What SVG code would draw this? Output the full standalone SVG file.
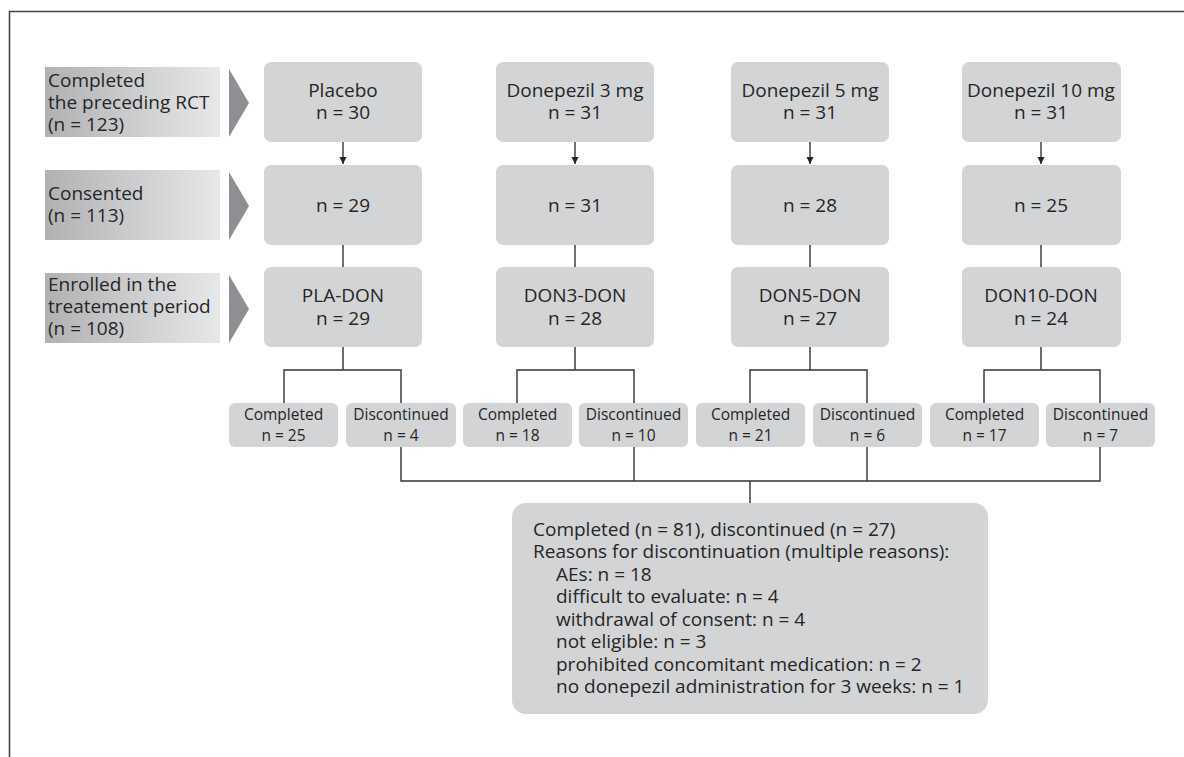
<svg xmlns="http://www.w3.org/2000/svg" width="1184" height="757" viewBox="0 0 1184 757">
<defs>
<linearGradient id="lg" x1="0" y1="0" x2="1" y2="0">
<stop offset="0" stop-color="#b0b1b3"/>
<stop offset="1" stop-color="#e7e8e9"/>
</linearGradient>
<marker id="ah" markerWidth="8" markerHeight="8" refX="7" refY="4" orient="auto" markerUnits="userSpaceOnUse" viewBox="0 0 8 8">
<path d="M0,0.5 L7,4 L0,7.5 Z" fill="#222"/>
</marker>
<style>
text{font-family:"Open Sans","Noto Sans","DejaVu Sans",sans-serif;fill:#262626}
.big{font-size:19px}
.sm{font-size:15.5px}
.c{text-anchor:middle}
.box{fill:#d3d4d6}
.lab{fill:url(#lg)}
.tri{fill:#8e8f92}
.ln{stroke:#333;stroke-width:1.4;fill:none}
</style>
</defs>
<path d="M9.5,757 L9.5,11.5 L1184,11.5" fill="none" stroke="#444" stroke-width="1.6"/>

<g id="label1">
<rect class="lab" x="45" y="67" width="175" height="70"/>
<polygon class="tri" points="229,69 249,103 229,137"/>
<text class="big"><tspan x="48" y="87">Completed</tspan><tspan x="48" y="109">the preceding RCT</tspan><tspan x="48" y="131">(n = 123)</tspan></text>
</g>
<g id="label2">
<rect class="lab" x="45" y="170" width="175" height="70"/>
<polygon class="tri" points="229,172 249,206 229,240"/>
<text class="big"><tspan x="48" y="200">Consented</tspan><tspan x="48" y="222">(n = 113)</tspan></text>
</g>
<g id="label3">
<rect class="lab" x="45" y="273" width="175" height="70"/>
<polygon class="tri" points="229,275 249,309 229,343"/>
<text class="big"><tspan x="48" y="291">Enrolled in the</tspan><tspan x="48" y="313">treatement period</tspan><tspan x="48" y="335">(n = 108)</tspan></text>
</g>

<g id="connectors">
<line class="ln" x1="343" y1="142" x2="343" y2="164" marker-end="url(#ah)"/>
<line class="ln" x1="575" y1="142" x2="575" y2="164" marker-end="url(#ah)"/>
<line class="ln" x1="810" y1="142" x2="810" y2="164" marker-end="url(#ah)"/>
<line class="ln" x1="1041" y1="142" x2="1041" y2="164" marker-end="url(#ah)"/>
<line class="ln" x1="343" y1="245" x2="343" y2="267"/>
<line class="ln" x1="575" y1="245" x2="575" y2="267"/>
<line class="ln" x1="810" y1="245" x2="810" y2="267"/>
<line class="ln" x1="1041" y1="245" x2="1041" y2="267"/>
<path class="ln" d="M343,347 V370 M284,403 V370 H401 V403"/>
<path class="ln" d="M575,347 V370 M517,403 V370 H634 V403"/>
<path class="ln" d="M810,347 V370 M750,403 V370 H867 V403"/>
<path class="ln" d="M1041,347 V370 M984,403 V370 H1100 V403"/>
<path class="ln" d="M401,447 V481 H1100 V447 M634,447 V481 M867,447 V481 M750,481 V503"/>
</g>

<g id="placebo"><rect class="box" x="264" y="62" width="158" height="80" rx="7"/><text class="big c"><tspan x="343" y="97">Placebo</tspan><tspan x="343" y="119">n = 30</tspan></text></g>
<g id="don3"><rect class="box" x="496" y="62" width="158" height="80" rx="7"/><text class="big c"><tspan x="575" y="97">Donepezil 3 mg</tspan><tspan x="575" y="119">n = 31</tspan></text></g>
<g id="don5"><rect class="box" x="731" y="62" width="158" height="80" rx="7"/><text class="big c"><tspan x="810" y="97">Donepezil 5 mg</tspan><tspan x="810" y="119">n = 31</tspan></text></g>
<g id="don10"><rect class="box" x="962" y="62" width="159" height="80" rx="7"/><text class="big c"><tspan x="1041" y="97">Donepezil 10 mg</tspan><tspan x="1041" y="119">n = 31</tspan></text></g>

<g id="cons-pla"><rect class="box" x="264" y="165" width="158" height="80" rx="7"/><text class="big c" x="343" y="212">n = 29</text></g>
<g id="cons-don3"><rect class="box" x="496" y="165" width="158" height="80" rx="7"/><text class="big c" x="575" y="212">n = 31</text></g>
<g id="cons-don5"><rect class="box" x="731" y="165" width="158" height="80" rx="7"/><text class="big c" x="810" y="212">n = 28</text></g>
<g id="cons-don10"><rect class="box" x="962" y="165" width="159" height="80" rx="7"/><text class="big c" x="1041" y="212">n = 25</text></g>

<g id="pla-don"><rect class="box" x="264" y="267" width="158" height="80" rx="7"/><text class="big c"><tspan x="343" y="302">PLA-DON</tspan><tspan x="343" y="325">n = 29</tspan></text></g>
<g id="don3-don"><rect class="box" x="496" y="267" width="158" height="80" rx="7"/><text class="big c"><tspan x="575" y="302">DON3-DON</tspan><tspan x="575" y="325">n = 28</tspan></text></g>
<g id="don5-don"><rect class="box" x="731" y="267" width="158" height="80" rx="7"/><text class="big c"><tspan x="810" y="302">DON5-DON</tspan><tspan x="810" y="325">n = 27</tspan></text></g>
<g id="don10-don"><rect class="box" x="962" y="267" width="159" height="80" rx="7"/><text class="big c"><tspan x="1041" y="302">DON10-DON</tspan><tspan x="1041" y="325">n = 24</tspan></text></g>

<g id="pla-c"><rect class="box" x="229" y="403" width="109" height="44" rx="6"/><text class="sm c"><tspan x="283.5" y="420">Completed</tspan><tspan x="283.5" y="441">n = 25</tspan></text></g>
<g id="pla-d"><rect class="box" x="346" y="403" width="110" height="44" rx="6"/><text class="sm c"><tspan x="401" y="420">Discontinued</tspan><tspan x="401" y="441">n = 4</tspan></text></g>
<g id="don3-c"><rect class="box" x="463" y="403" width="109" height="44" rx="6"/><text class="sm c"><tspan x="517.5" y="420">Completed</tspan><tspan x="517.5" y="441">n = 18</tspan></text></g>
<g id="don3-d"><rect class="box" x="579" y="403" width="109" height="44" rx="6"/><text class="sm c"><tspan x="633.5" y="420">Discontinued</tspan><tspan x="633.5" y="441">n = 10</tspan></text></g>
<g id="don5-c"><rect class="box" x="696" y="403" width="109" height="44" rx="6"/><text class="sm c"><tspan x="750.5" y="420">Completed</tspan><tspan x="750.5" y="441">n = 21</tspan></text></g>
<g id="don5-d"><rect class="box" x="813" y="403" width="109" height="44" rx="6"/><text class="sm c"><tspan x="867.5" y="420">Discontinued</tspan><tspan x="867.5" y="441">n = 6</tspan></text></g>
<g id="don10-c"><rect class="box" x="930" y="403" width="109" height="44" rx="6"/><text class="sm c"><tspan x="984.5" y="420">Completed</tspan><tspan x="984.5" y="441">n = 17</tspan></text></g>
<g id="don10-d"><rect class="box" x="1046" y="403" width="109" height="44" rx="6"/><text class="sm c"><tspan x="1100.5" y="420">Discontinued</tspan><tspan x="1100.5" y="441">n = 7</tspan></text></g>

<g id="summary"><rect class="box" x="512" y="503" width="476" height="211" rx="14"/>
<text class="big"><tspan x="533" y="536">Completed (n = 81), discontinued (n = 27)</tspan><tspan x="533" y="558">Reasons for discontinuation (multiple reasons):</tspan><tspan x="556" y="581">AEs: n = 18</tspan><tspan x="556" y="603">difficult to evaluate: n = 4</tspan><tspan x="556" y="626">withdrawal of consent: n = 4</tspan><tspan x="556" y="648">not eligible: n = 3</tspan><tspan x="556" y="671">prohibited concomitant medication: n = 2</tspan><tspan x="556" y="693">no donepezil administration for 3 weeks: n = 1</tspan></text>
</g>
</svg>
